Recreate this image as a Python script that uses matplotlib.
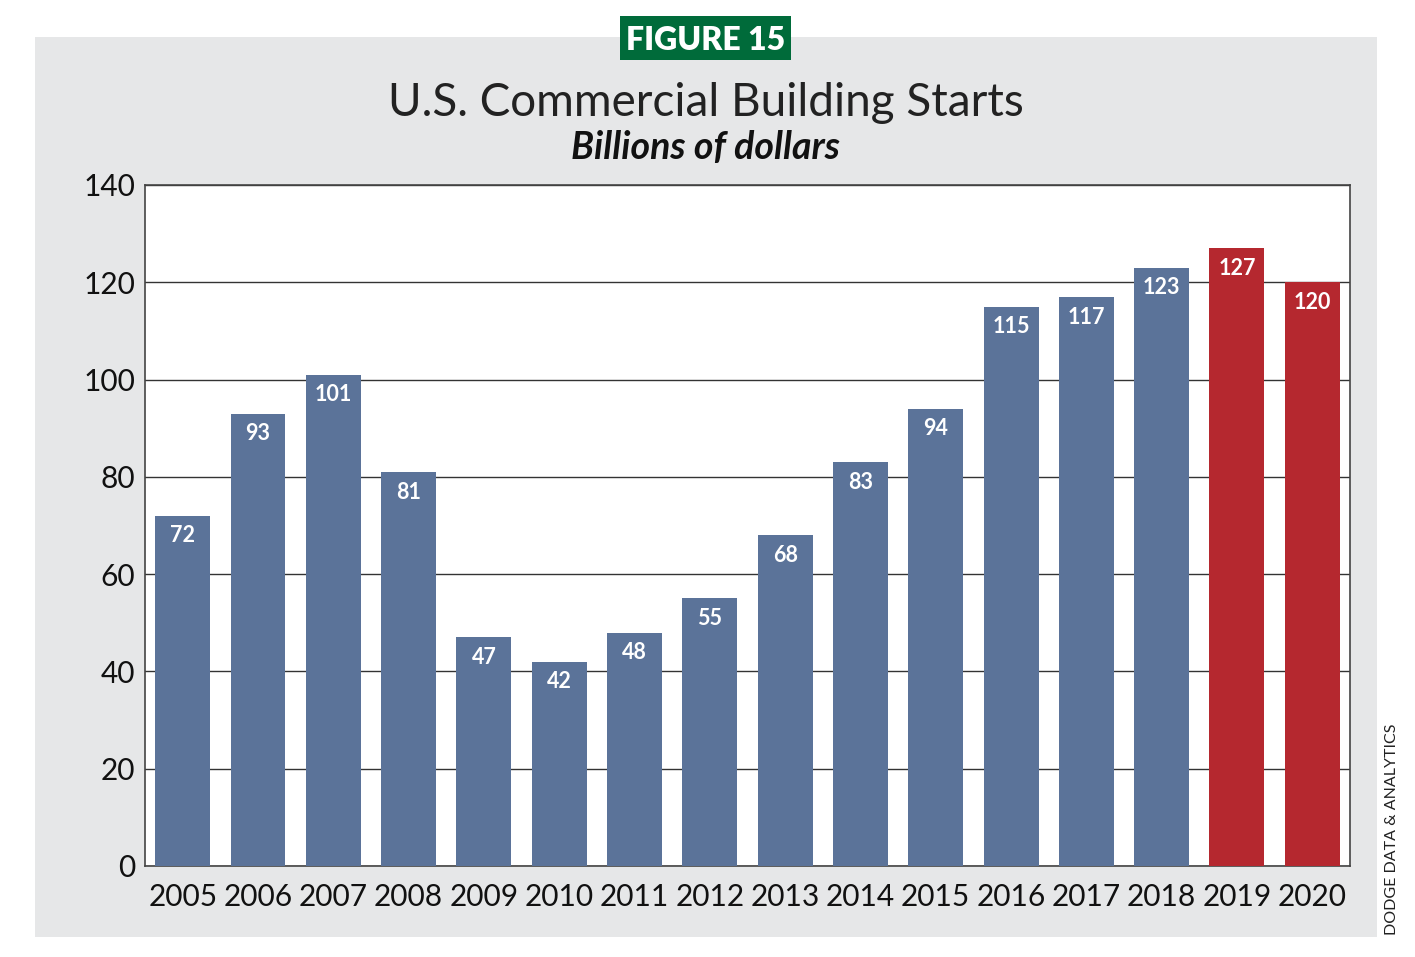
import matplotlib.pyplot as plt
from matplotlib.patches import Rectangle

years = ["2005", "2006", "2007", "2008", "2009", "2010", "2011", "2012",
         "2013", "2014", "2015", "2016", "2017", "2018", "2019", "2020"]
starts = [72, 93, 101, 81, 47, 42, 48, 55, 68, 83, 94, 115, 117, 123, 127, 120]
forecast = [False] * 14 + [True, True]
yticks = [0, 20, 40, 60, 80, 100, 120, 140]

blue = "#5b7399"
red = "#b5282f"
panel_gray = "#e6e7e8"
green = "#006b3a"
font = ["Lato", "DejaVu Sans"]

fig = plt.figure(figsize=(14.15, 9.57), dpi=100)
fig.patch.set_facecolor("white")

# gray panel behind the chart
fig.patches.append(Rectangle((0.0247, 0.0209), 0.9484, 0.9404, transform=fig.transFigure,
                             facecolor=panel_gray, edgecolor="none", zorder=-10))
# green figure tag
fig.patches.append(Rectangle((0.438, 0.937), 0.121, 0.046, transform=fig.transFigure,
                             facecolor=green, edgecolor="none", zorder=-5))
fig.text(0.4985, 0.958, "FIGURE 15", color="white", fontsize=23, fontweight="heavy",
         ha="center", va="center", family=font)

fig.text(0.4985, 0.892, "U.S. Commercial Building Starts", fontsize=33, fontweight="normal",
         ha="center", va="center", color="#222222", family=font)
fig.text(0.4985, 0.846, "Billions of dollars", fontsize=27, fontweight="bold", style="italic",
         ha="center", va="center", color="#111111", family=font)

fig.text(0.984, 0.133, "DODGE DATA & ANALYTICS", rotation=90, fontsize=11.5,
         ha="center", va="center", color="#222222", family=font)

ax = fig.add_axes([0.1025, 0.0951, 0.8515, 0.7116])
ax.set_facecolor("white")

colors = [red if f else blue for f in forecast]
x = range(len(years))
bars = ax.bar(x, starts, width=0.73, color=colors, zorder=3)
for b, v in zip(bars, starts):
    ax.annotate(str(v), (b.get_x() + b.get_width() / 2, v), xytext=(0, -14.5),
                textcoords="offset points", ha="center", va="center",
                color="white", fontsize=15.5, fontweight="bold", family=font, zorder=4)

ax.set_xlim(-0.5, len(years) - 0.5)
ax.set_ylim(0, 140)
ax.set_yticks(yticks)
ax.set_yticklabels([str(t) for t in yticks])
ax.set_xticks(list(x))
ax.set_xticklabels(years)
ax.grid(axis="y", color="#333333", linewidth=1.0, zorder=1)
ax.tick_params(axis="both", length=0, labelsize=21.5, colors="#111111")
ax.tick_params(axis="y", pad=7)
ax.tick_params(axis="x", pad=12)
for lbl in ax.get_xticklabels() + ax.get_yticklabels():
    lbl.set_family(font)
for s in ax.spines.values():
    s.set_color("#444444")
    s.set_linewidth(1.2)

fig.savefig("out.png", dpi=100)
